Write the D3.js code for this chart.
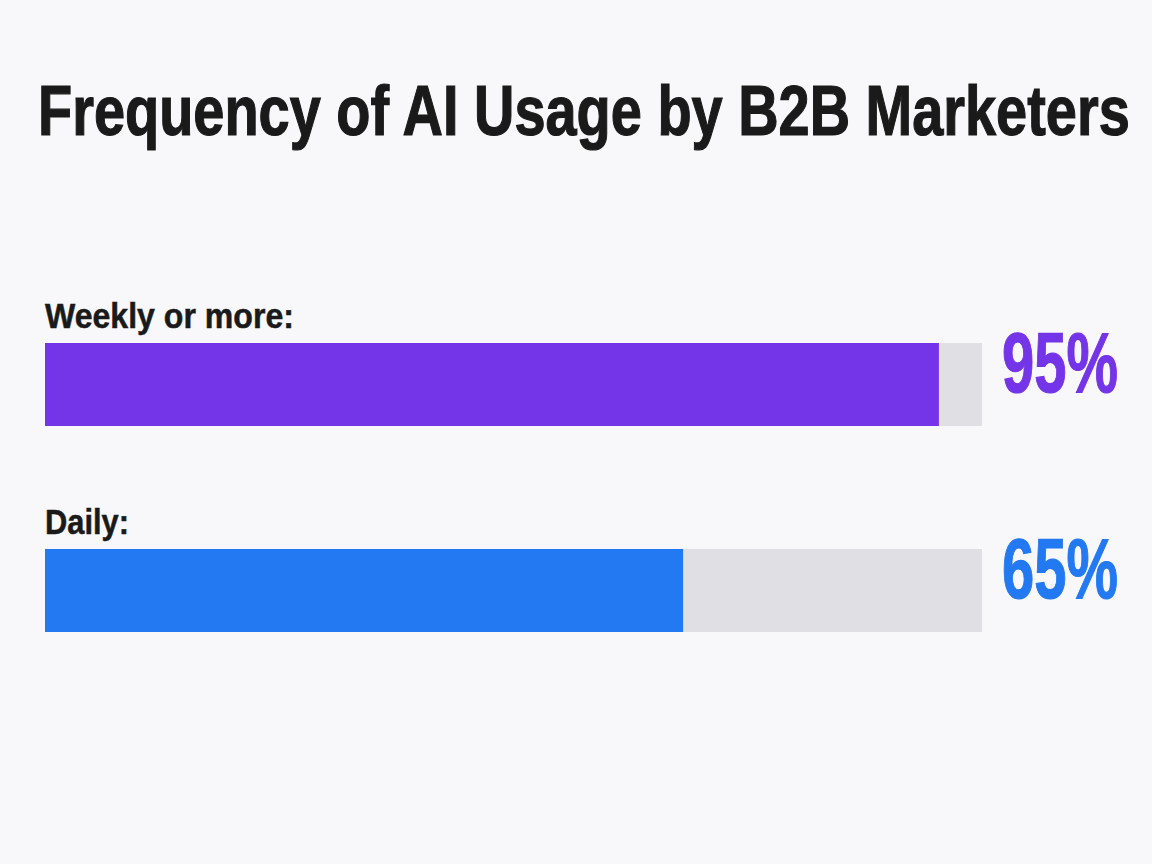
<!DOCTYPE html>
<html>
<head>
<meta charset="utf-8">
<script src="https://cdn.jsdelivr.net/npm/d3@7"></script>
<style>
  html, body { margin: 0; padding: 0; background: #f8f8fa; }
  svg { display: block; }
</style>
</head>
<body>
<svg id="chart" width="1152" height="864"></svg>
<script>
// ---- data ----
const titleText = "Frequency of AI Usage by B2B Marketers";
const categories = ["Weekly or more:", "Daily:"];
const barValues = [95.4, 68.1];          // filled length as drawn in the picture
const valueLabels = ["95%", "65%"];      // printed percentages
const barColors = ["#7434e8", "#2279f2"];
const trackMax = 100;

// ---- layout ----
const W = 1152, H = 864;
const svg = d3.select("#chart");
svg.append("rect").attr("width", W).attr("height", H).attr("fill", "#f8f8fa");

const x = d3.scaleLinear().domain([0, trackMax]).range([45, 982]);
const y = d3.scaleBand().domain(categories).range([343, 632]).paddingInner(0.597).paddingOuter(0);

const font = "'Liberation Sans', Arial, Helvetica, sans-serif";

// place a text at (px, py) and scale it horizontally so it spans `width`
function placeFit(sel, px, py, width) {
  sel.attr("x", 0).attr("y", 0);
  const w0 = sel.node().getComputedTextLength();
  const sx = width / w0;
  sel.attr("transform", `translate(${px},${py}) scale(${sx},1)`);
  return sel;
}

// title
placeFit(svg.append("text")
  .attr("font-family", font).attr("font-weight", "bold")
  .attr("font-size", 70).attr("fill", "#1a1a1a")
  .attr("stroke", "#1a1a1a").attr("stroke-width", 1.2)
  .text(titleText), 38, 135, 1092);

const rows = svg.selectAll("g.row")
  .data(categories.map((c, i) => ({ c, v: barValues[i], l: valueLabels[i], col: barColors[i] })))
  .enter().append("g").attr("class", "row");

// track
rows.append("rect")
  .attr("x", x(0)).attr("y", d => y(d.c))
  .attr("width", x(trackMax) - x(0)).attr("height", y.bandwidth())
  .attr("fill", "#e0e0e4");

// fill
rows.append("rect")
  .attr("x", x(0)).attr("y", d => y(d.c))
  .attr("width", d => x(d.v) - x(0)).attr("height", y.bandwidth())
  .attr("fill", d => d.col);

// category labels
const labelWidths = [249, 84];
rows.append("text")
  .attr("font-family", font).attr("font-weight", "bold")
  .attr("font-size", 35).attr("fill", "#1a1a1a")
  .attr("stroke", "#1a1a1a").attr("stroke-width", 0.5)
  .text(d => d.c)
  .each(function(d, i) { placeFit(d3.select(this), 45, y(d.c) - 15, labelWidths[i]); });

// value labels
rows.append("text")
  .attr("font-family", font).attr("font-weight", "bold")
  .attr("font-size", 86).attr("fill", d => d.col)
  .attr("stroke", d => d.col).attr("stroke-width", 1.2)
  .text(d => d.l)
  .each(function(d) { placeFit(d3.select(this), 1002, y(d.c) + 49, 116); });
</script>
</body>
</html>
